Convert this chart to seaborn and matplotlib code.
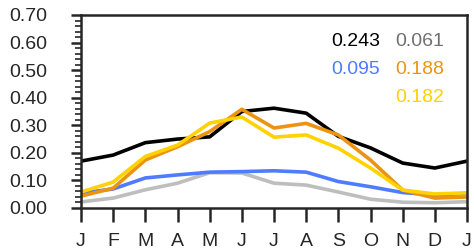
import matplotlib
matplotlib.use("Agg")
import matplotlib.pyplot as plt
import seaborn as sns
import pandas as pd
from matplotlib.ticker import MultipleLocator

months = ["J", "F", "M", "A", "M", "J", "J", "A", "S", "O", "N", "D", "J"]
black = [0.170, 0.192, 0.237, 0.250, 0.258, 0.350, 0.362, 0.344, 0.260, 0.218, 0.163, 0.145, 0.170]
gray = [0.022, 0.036, 0.066, 0.090, 0.128, 0.127, 0.090, 0.083, 0.058, 0.032, 0.021, 0.019, 0.023]
blue = [0.054, 0.069, 0.109, 0.120, 0.130, 0.132, 0.135, 0.130, 0.096, 0.077, 0.056, 0.047, 0.053]
orange = [0.043, 0.072, 0.174, 0.222, 0.277, 0.358, 0.290, 0.307, 0.265, 0.174, 0.065, 0.036, 0.040]
yellow = [0.058, 0.094, 0.187, 0.228, 0.308, 0.330, 0.257, 0.265, 0.217, 0.145, 0.065, 0.051, 0.055]
labels = ["0.243", "0.061", "0.095", "0.188", "0.182"]

sns.set_style("ticks")
plt.rcParams['font.family'] = ['Liberation Sans', 'DejaVu Sans']

fig = plt.figure(figsize=(4.74, 2.52), dpi=100)
ax = fig.add_axes([81/474, 1 - 208/252, (467-81)/474, (208-15)/252])

x = list(range(len(months)))
series = [(black, "#000000"), (gray, "#BEBEBE"), (blue, "#4F7BFF"),
          (orange, "#EC9410"), (yellow, "#FFD200")]
for vals, col in series:
    df = pd.DataFrame({"m": x, "v": vals})
    sns.lineplot(data=df, x="m", y="v", color=col, linewidth=2.6, ax=ax)

ax.set_xlim(0, 12)
ax.set_ylim(0, 0.70)
ax.set_xticks(x)
ax.set_xticklabels(months)
ax.yaxis.set_major_locator(MultipleLocator(0.10))
ax.yaxis.set_minor_locator(MultipleLocator(0.02))
ax.set_yticklabels([f"{v:.2f}" for v in ax.get_yticks()])
ax.set_xlabel("")
ax.set_ylabel("")
for s in ax.spines.values():
    s.set_linewidth(1.8)
    s.set_visible(True)
ax.tick_params(axis="y", which="major", length=7, width=1.8, labelsize=14, pad=17, direction="out")
ax.tick_params(axis="y", which="minor", length=4, width=1.2, direction="out")
ax.tick_params(axis="x", which="major", length=10, width=1.8, labelsize=14, pad=8, direction="out")

fs = 14
ax.text(380/474, 1 - 42/252, labels[0], color="#000000", fontsize=fs, ha="right", va="center", transform=fig.transFigure)
ax.text(444/474, 1 - 42/252, labels[1], color="#707070", fontsize=fs, ha="right", va="center", transform=fig.transFigure)
ax.text(380/474, 1 - 70/252, labels[2], color="#4F7BFF", fontsize=fs, ha="right", va="center", transform=fig.transFigure)
ax.text(444/474, 1 - 70/252, labels[3], color="#EC9410", fontsize=fs, ha="right", va="center", transform=fig.transFigure)
ax.text(444/474, 1 - 97/252, labels[4], color="#FFD200", fontsize=fs, ha="right", va="center", transform=fig.transFigure)

fig.text(208/474, 1 + 6/252, "(a)", fontsize=14, ha="center", va="baseline")

fig.savefig("out.png", dpi=100)
